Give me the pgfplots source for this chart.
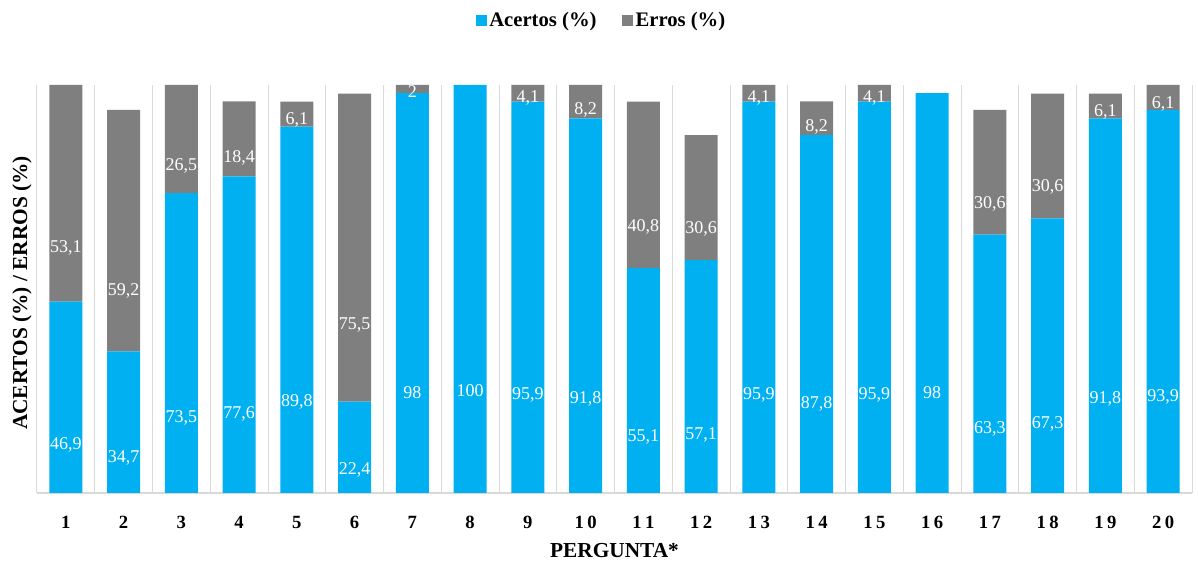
\documentclass[border=0pt]{standalone}
\usepackage{pgfplots}
\pgfplotsset{compat=1.18}
\usepackage{pgfplotstable}
\usepackage{fontspec}
\setmainfont{Liberation Serif}
\definecolor{acblue}{HTML}{00B0F0}
\definecolor{ergray}{HTML}{7F7F7F}
\definecolor{gridgray}{HTML}{D9D9D9}
\pgfplotstableread{
x a e
1 46.9 53.1
2 34.7 59.2
3 73.5 26.5
4 77.6 18.4
5 89.8 6.1
6 22.4 75.5
7 98 2
8 100 0
9 95.9 4.1
10 91.8 8.2
11 55.1 40.8
12 57.1 30.6
13 95.9 4.1
14 87.8 8.2
15 95.9 4.1
16 98 0
17 63.3 30.6
18 67.3 30.6
19 91.8 6.1
20 93.9 6.1
}\datatable
\newcommand\tk[2]{#1\kern2.5pt#2}
\begin{document}
\begin{tikzpicture}
\useasboundingbox (-27.75pt,-52.5pt) rectangle (870.75pt,369.75pt);
\begin{axis}[
  at={(0pt,0pt)}, anchor=south west,
  scale only axis,
  width=866.25pt, height=306pt,
  ybar stacked,
  bar width=24.75pt,
  xmin=0.5, xmax=20.5,
  ymin=0, ymax=100,
  enlargelimits=false,
  ytick=\empty,
  xtick={1,...,20},
  xticklabels={1,2,3,4,5,6,7,8,9,\tk10,\tk11,\tk12,\tk13,\tk14,\tk15,\tk16,\tk17,\tk18,\tk19,\tk20},
  xticklabel style={anchor=center, yshift=-21.75pt, font=\fontsize{14}{14}\selectfont\bfseries},
  minor xtick={0.5,1.5,...,20.5},
  xminorgrids=true,
  minor grid style={draw=gridgray, line width=0.75pt},
  major tick length=0pt, minor tick length=0pt,
  axis y line*=left,
  axis x line*=bottom,
  y axis line style={draw=none},
  x axis line style={draw=gridgray, line width=1.1pt, -},
  xlabel={PERGUNTA*},
  xlabel style={at={(rel axis cs:0.5,-0.142)}, anchor=center, font=\fontsize{16}{16}\selectfont\bfseries},
  ylabel={ACERTOS (\%) / ERROS (\%)},
  ylabel style={at={(rel axis cs:-0.013,0.49)}, anchor=center, font=\fontsize{16}{16}\selectfont\bfseries},
  /pgf/number format/assume math mode=true,
  /pgf/number format/use comma,
  /pgf/number format/fixed,
  /pgf/number format/precision=1,
  point meta=explicit,
  nodes near coords={\pgfmathfloatifflags{\pgfplotspointmeta}{0}{}{\pgfmathprintnumber{\pgfplotspointmeta}}},
  every node near coord/.append style={anchor=center, text=white, font=\fontsize{13.5}{13.5}\selectfont, yshift={-0.765pt*\myv}},
  legend columns=2,
  legend style={at={(rel axis cs:0.489,1.159)}, anchor=center, draw=none, fill=none,
    font=\fontsize{15.5}{15.5}\selectfont\bfseries,
    /tikz/every even column/.append style={column sep=17pt},
    /tikz/every odd column/.append style={column sep=0pt}},
  legend image code/.code={\fill[#1] (0pt,-4.1pt) rectangle (8.25pt,4.1pt);},
]
\addplot[fill=acblue, draw=none, visualization depends on={\thisrow{a}\as\myv}] table[x=x, y=a, meta=a] {\datatable};
\addplot[fill=ergray, draw=none, visualization depends on={\thisrow{e}\as\myv}] table[x=x, y=e, meta=e] {\datatable};
\legend{Acertos (\%), Erros (\%)}
\end{axis}
\end{tikzpicture}
\end{document}
